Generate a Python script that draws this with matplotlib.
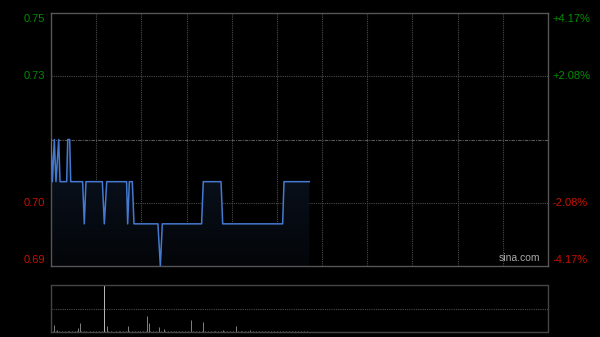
import numpy as np
import matplotlib
matplotlib.use("Agg")
import matplotlib.pyplot as plt
from matplotlib.patches import Polygon
from matplotlib.colors import LinearSegmentedColormap

# ---- data ----
# price path (minutes since 09:30, price)
minutes = [0, 0.9, 2.2, 3.3, 5.1, 6.0, 10.4, 11.1, 12.4, 13.1, 21.0, 22.1, 23.2, 34.1, 35.4,
           37.0, 50.2, 50.9, 52.0, 54.0, 55.1, 71.0, 72.6, 73.9, 100.0, 101.1, 112.9, 114.0,
           153.8, 154.7, 171.5]
prices = [0.72, 0.71, 0.72, 0.71, 0.72, 0.71, 0.71, 0.72, 0.72, 0.71, 0.71, 0.70, 0.71, 0.71, 0.70,
          0.71, 0.71, 0.70, 0.71, 0.71, 0.70, 0.70, 0.69, 0.70, 0.70, 0.71, 0.71, 0.70,
          0.70, 0.71, 0.71]

# per-minute volume (relative, largest = 100)
volumes = [2, 3, 15, 2, 4, 2, 1, 2, 1, 2,
           1, 2, 2, 1, 2, 1, 2, 3, 8, 20,
           2, 1, 2, 2, 1, 1, 2, 1, 2, 1,
           2, 1, 2, 1, 2, 100, 2, 13, 2, 1,
           2, 1, 1, 2, 1, 2, 2, 1, 3, 1,
           2, 12, 2, 1, 2, 1, 2, 1, 3, 2,
           1, 2, 1, 2, 34, 20, 2, 1, 2, 1,
           2, 1, 10, 2, 1, 6, 2, 1, 2, 1,
           2, 1, 2, 3, 1, 2, 1, 2, 1, 2,
           1, 2, 1, 26, 2, 1, 2, 1, 2, 1,
           2, 21, 2, 1, 2, 1, 2, 1, 2, 3,
           1, 2, 1, 2, 4, 2, 1, 2, 1, 2,
           1, 2, 1, 13, 2, 1, 2, 3, 1, 2,
           1, 2, 4, 1, 2, 1, 2, 1, 2, 1,
           2, 1, 3, 1, 2, 1, 2, 1, 2, 1,
           3, 1, 2, 1, 2, 1, 2, 1, 2, 1,
           2, 1, 2, 1, 2, 1, 2, 1, 2, 1,
           2, 1]
vol_minutes = list(range(len(volumes)))

prev_close = 0.72
y_ticks = [0.69, 0.705, 0.72, 0.735, 0.75]
left_labels = ["0.69", "0.70", "", "0.73", "0.75"]
right_labels = ["-4.17%", "-2.08%", "", "+2.08%", "+4.17%"]

GREEN = "#008c00"
RED = "#c81000"
GRID = "#4a4a4a"

plt.rcParams['font.family'] = ['Liberation Sans', 'DejaVu Sans']

fig = plt.figure(figsize=(6, 3.37), dpi=100, facecolor="black")
ax = fig.add_axes([51/600, 1-266/337, 497/600, 253/337], facecolor="black")
axv = fig.add_axes([51/600, 1-332/337, 497/600, 47/337], facecolor="black")

ax.set_xlim(0, 330)
ax.set_ylim(0.69, 0.75)

# gradient fill under line
xs = np.array(minutes)
ys = np.array(prices)
poly = Polygon(np.column_stack([np.r_[xs, xs[-1], xs[0]], np.r_[ys, 0.69, 0.69]]),
               closed=True, facecolor="none", edgecolor="none")
ax.add_patch(poly)
grad = np.linspace(1, 0, 256).reshape(-1, 1)
cmap = LinearSegmentedColormap.from_list("g", ["#030508", "#0c1524"])
im = ax.imshow(grad, extent=[0, 330, 0.69, 0.72], aspect="auto", cmap=cmap,
               origin="upper", zorder=1)
im.set_clip_path(poly)

# grid
for m in range(30, 330, 30):
    ax.axvline(m, color=GRID, lw=0.8, ls=(0, (1, 1)), zorder=0.5)
for yv in [0.705, 0.735]:
    ax.axhline(yv, color=GRID, lw=0.8, ls=(0, (1, 1)), zorder=0.5)
ax.axhline(prev_close, color="#5a5a5a", lw=0.8, ls=(0, (3, 1, 1, 1)), zorder=0.5)

ax.plot(minutes, prices, color="#4479cf", lw=1.1, zorder=3)

for s in ax.spines.values():
    s.set_color("#555555")
    s.set_linewidth(1)
ax.set_xticks([])
ax.set_yticks([])

# tick labels
for yv, ll, rl in zip(y_ticks, left_labels, right_labels):
    if not ll:
        continue
    col = GREEN if yv > prev_close else RED
    va = "center"
    off = 0
    if yv == 0.75:
        va, off = "top", -1
    elif yv == 0.69:
        va, off = "bottom", 1
    ax.annotate(ll, xy=(0, yv), xycoords=("axes fraction", "data"),
                xytext=(-4, off), textcoords="offset points", ha="right", va=va,
                color=col, fontsize=8)
    ax.annotate(rl, xy=(1, yv), xycoords=("axes fraction", "data"),
                xytext=(3, off), textcoords="offset points", ha="left", va=va,
                color=col, fontsize=8)

ax.text(0.985, 0.012, "sina.com", transform=ax.transAxes, ha="right", va="bottom",
        color="#aaaaaa", fontsize=7.5, zorder=4)

# volume panel
axv.set_xlim(0, 330)
axv.set_ylim(0, 100)
axv.vlines(vol_minutes, 0, volumes,
           colors=["#bbbbbb" if v >= 100 else "#808080" for v in volumes], lw=0.7)
for yv in [50, 100]:
    axv.axhline(yv, color=GRID, lw=0.8, ls=(0, (1, 1)))
axv.axhline(0, color=GRID, lw=0.8, ls=(0, (1, 1)))
for k, s in axv.spines.items():
    s.set_color("#444444")
    s.set_linewidth(1)
    if k in ("top", "bottom"):
        s.set_linestyle((0, (1, 1)))
axv.set_xticks([])
axv.set_yticks([])

fig.savefig("out.png", dpi=100, facecolor="black")
